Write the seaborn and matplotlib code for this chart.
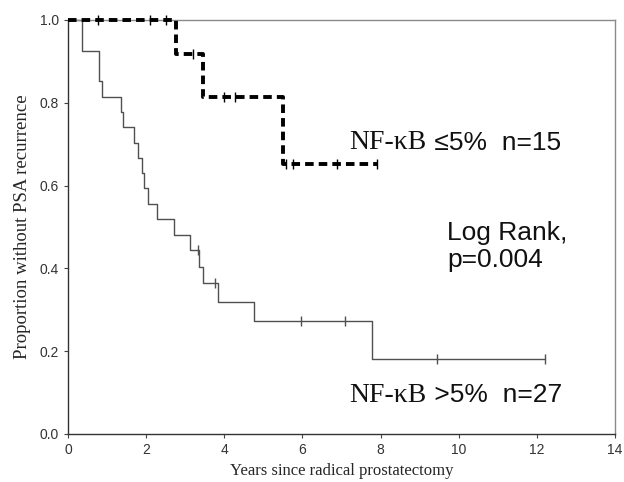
import numpy as np
import matplotlib
matplotlib.use("Agg")
import matplotlib.pyplot as plt
import seaborn as sns

# Kaplan-Meier steps
low_times = [0, 0.35, 0.80, 0.86, 1.36, 1.42, 1.69, 1.78, 1.89, 1.95, 2.04, 2.28,
             2.70, 3.11, 3.36, 3.45, 3.85, 4.76, 7.77, 12.21]
low_surv = [1.0, 0.926, 0.852, 0.815, 0.778, 0.741, 0.704, 0.667, 0.630, 0.593,
            0.556, 0.519, 0.481, 0.444, 0.404, 0.364, 0.318, 0.273, 0.182, 0.182]
low_censor = [3.33, 3.76, 5.96, 7.09, 9.44, 12.21]

high_times = [0, 2.76, 3.45, 5.51, 7.93]
high_surv = [1.0, 0.917, 0.815, 0.652, 0.652]
high_censor = [0.78, 2.10, 2.51, 3.21, 4.00, 4.27, 5.57, 5.77, 6.89, 7.90]

x_ticks = [0, 2, 4, 6, 8, 10, 12, 14]
y_ticks = [0.0, 0.2, 0.4, 0.6, 0.8, 1.0]


def surv_at(times, surv, t):
    idx = np.searchsorted(times, t, side="right") - 1
    return np.asarray(surv)[idx]


sns.set_style("ticks")
plt.rcParams["font.family"] = ["Liberation Sans", "DejaVu Sans"]

fig = plt.figure(figsize=(6.24, 4.82), dpi=100)
ax = fig.add_axes([0.109, 0.0996, 0.8766, 0.859])

sns.lineplot(x=low_times, y=low_surv, drawstyle="steps-post", sort=False,
             estimator=None, color="#505050", linewidth=1.0, ax=ax, clip_on=False)
sns.scatterplot(x=low_censor, y=surv_at(low_times, low_surv, low_censor),
                marker="|", s=45, color="#505050", linewidth=1.0, ax=ax, zorder=3)

sns.lineplot(x=high_times, y=high_surv, drawstyle="steps-post", sort=False,
             estimator=None, color="black", linewidth=2.8, ax=ax, clip_on=False,
             dashes=False, linestyle=(0, (2.2, 1.3)), zorder=5)
sns.scatterplot(x=high_censor, y=surv_at(high_times, high_surv, high_censor),
                marker="|", s=45, color="black", linewidth=1.0, ax=ax, zorder=6,
                clip_on=False)

ax.set_xlim(0, 14)
ax.set_ylim(0, 1.0)
ax.set_xticks(x_ticks)
ax.set_yticks(y_ticks)
ax.set_yticklabels([f"{v:.1f}" for v in y_ticks])
ax.tick_params(labelsize=10, labelcolor="#333333", length=3, width=0.8, color="#444444")

for side in ["top", "right"]:
    ax.spines[side].set_visible(True)
    ax.spines[side].set_color("#8a8a8a")
    ax.spines[side].set_linewidth(1.0)
for side in ["left", "bottom"]:
    ax.spines[side].set_color("#333333")
    ax.spines[side].set_linewidth(1.0)

ax.set_xlabel("Years since radical prostatectomy", family="Liberation Serif",
              fontsize=12, labelpad=4)
ax.set_ylabel("Proportion without PSA recurrence", family="Liberation Serif",
              fontsize=13.5, labelpad=6)

t1 = ax.text(7.2, 0.703, "NF-κB", family="Liberation Serif", fontsize=20,
             va="center", color="#111111")
ax.annotate(" ≤5%  n=15", xy=(1, 0.5), xycoords=t1, va="center", fontsize=19,
            family=["Liberation Sans", "DejaVu Sans"], color="#111111")

ax.text(9.7, 0.452, "Log Rank,\np=0.004", fontsize=19, va="center",
        linespacing=1.15, color="#111111")

t2 = ax.text(7.2, 0.094, "NF-κB", family="Liberation Serif", fontsize=20,
             va="center", color="#111111")
ax.annotate(" >5%  n=27", xy=(1, 0.5), xycoords=t2, va="center", fontsize=19,
            color="#111111")

fig.savefig("out.png", dpi=100)
